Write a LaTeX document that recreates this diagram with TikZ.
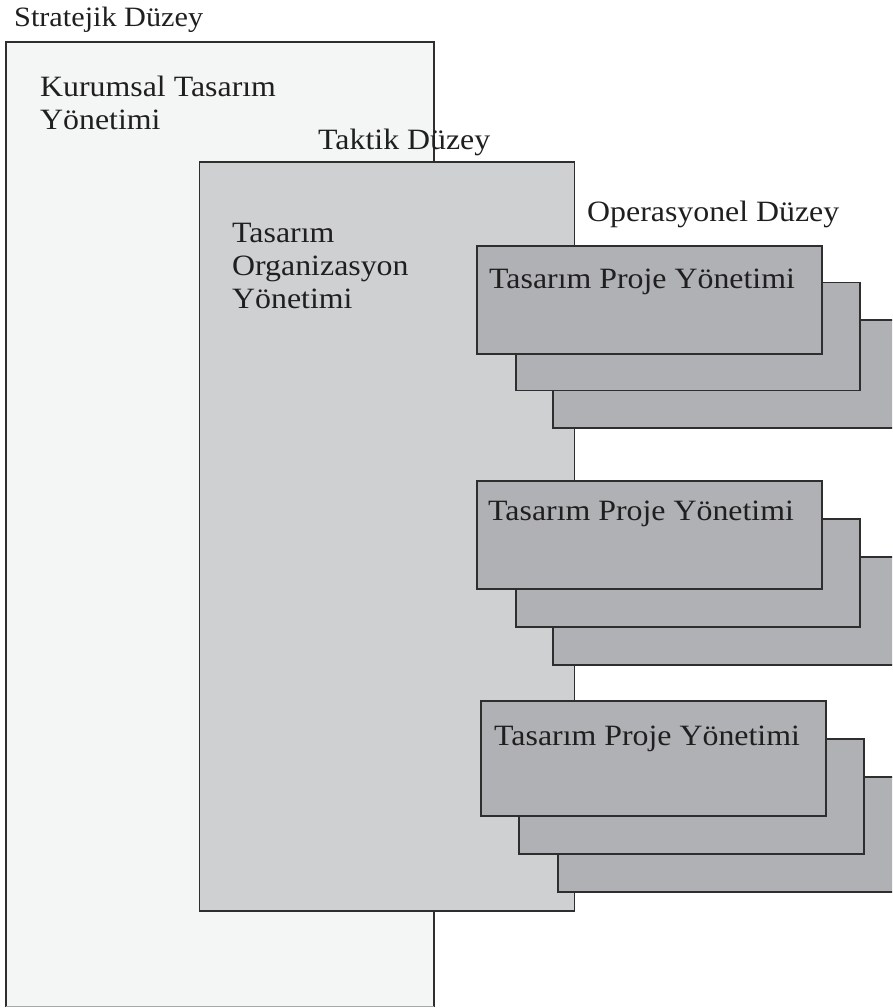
\documentclass[tikz,border=0pt]{standalone}
\usepackage{fontspec}
\setmainfont{Liberation Serif}[FakeStretch=1.08]
\definecolor{stratfill}{HTML}{F4F6F5}
\definecolor{taktfill}{HTML}{CFD0D2}
\definecolor{projfill}{HTML}{B0B1B5}
\definecolor{edge}{HTML}{2E2E2E}
\begin{document}
\begin{tikzpicture}[x=1pt,y=-1pt,
  lbl/.style={anchor=base west,inner sep=0pt,text=black!88,font=\fontsize{29.5}{33}\selectfont},
  panel/.style={draw=edge,line width=1.3pt,anchor=north west,inner sep=0pt,outer sep=0pt},
  projbox/.style={panel,fill=projfill,minimum width=345pt,minimum height=108pt},
  backbox/.style={projbox,minimum width=400pt}]
\useasboundingbox (0,0) rectangle (892,1008);
\clip (0,0) rectangle (892,1008);

% strategic level
\fill[stratfill] (6,42) rectangle (434,1006.5);
\draw[edge,line width=1.3pt] (6,1006.5) -- (6,42) -- (434,42) -- (434,1006.5);
\draw[black!35,line width=1.3pt] (6,1006.5) -- (434,1006.5);
\node[lbl,font=\fontsize{28}{33}\selectfont] (strat) at (14,27) {Stratejik Düzey};
\node[lbl] (kur1) at (40,96.5) {Kurumsal Tasarım};
\node[lbl] (kur2) at (40,130) {Yönetimi};

% tactical level
\node[lbl] (takt) at (318,150) {Taktik Düzey};
\node[panel,fill=taktfill,minimum width=375pt,minimum height=749pt] (taktbox) at (199.5,162) {};
\node[lbl] (org1) at (232,242) {Tasarım};
\node[lbl] (org2) at (232,275) {Organizasyon};
\node[lbl] (org3) at (232,308) {Yönetimi};

% operational level
\node[lbl] (oper) at (587,222) {Operasyonel Düzey};

% project stack 1
\node[backbox] (p1c) at (553,320) {};
\node[projbox,minimum width=344pt] (p1b) at (516,282.5) {};
\node[projbox] (p1a) at (477,246) {};
\node[lbl] (t1) at (489,288) {Tasarım Proje Yönetimi};

% project stack 2
\node[backbox] (p2c) at (553,557) {};
\node[projbox,minimum width=344pt] (p2b) at (516,519) {};
\node[projbox] (p2a) at (477,481) {};
\node[lbl] (t2) at (488,520) {Tasarım Proje Yönetimi};

% project stack 3
\node[backbox,minimum height=115pt] (p3c) at (558,777) {};
\node[projbox,minimum height=115pt] (p3b) at (519,739) {};
\node[projbox,minimum height=115pt] (p3a) at (481,701) {};
\node[lbl] (t3) at (494,745) {Tasarım Proje Yönetimi};
\end{tikzpicture}
\end{document}
